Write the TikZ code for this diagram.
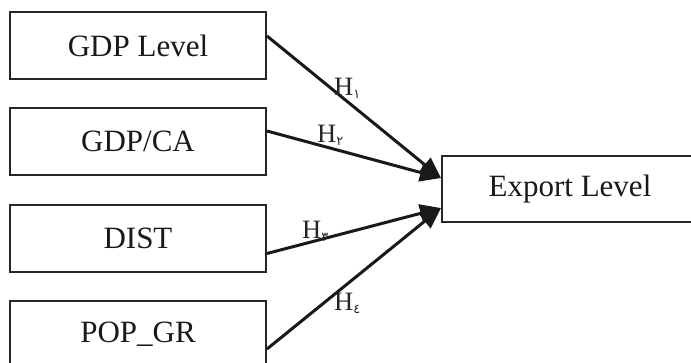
\documentclass[tikz,border=0pt]{standalone}
\usepackage{fontspec}
\setmainfont{Liberation Serif}
\newfontfamily\arabicfont[Script=Arabic]{DejaVu Sans}
\usetikzlibrary{arrows.meta}
\tikzset{
  varbox/.style={draw=black!85, line width=2pt, minimum width=256pt, minimum height=67pt,
    inner sep=0pt, font=\fontsize{31}{31}\selectfont, text=black!90},
  link/.style={line width=3pt, black!90, -{Triangle[length=21pt,width=18pt]}},
  hlab/.style={inner sep=0pt, anchor=base west, font=\fontsize{26.5}{26.5}\selectfont, text=black!85}
}
\newcommand{\hsub}[1]{H\raisebox{-3pt}{\arabicfont\fontsize{13}{13}\selectfont #1}}
\begin{document}
\begin{tikzpicture}[x=1pt,y=-1pt]
\clip (0,0) rectangle (691,362);
\fill[white] (0,0) rectangle (691,362);
\node[varbox] (g1) at (138,45.5) {GDP Level};
\node[varbox] (g2) at (138,141.5) {GDP/CA};
\node[varbox] (g3) at (138,238) {DIST};
\node[varbox] (g4) at (138,334.5) {POP\_GR};
\node[varbox, minimum height=66pt] (ex) at (570,189) {Export Level};
\draw[link] ([yshift=-25pt]g1.north east) -- ([yshift=11pt]ex.west);
\draw[link] ([yshift=-24pt]g2.north east) -- ([yshift=11pt]ex.west);
\draw[link] ([yshift=19pt]g3.south east) -- ([yshift=-19pt]ex.west);
\draw[link] ([yshift=20pt]g4.south east) -- ([yshift=-19pt]ex.west);
\node[hlab] (h1) at (334,95) {\hsub{١}};
\node[hlab] (h2) at (317,142) {\hsub{٢}};
\node[hlab] (h3) at (302,238) {\hsub{٣}};
\node[hlab] (h4) at (334,310) {\hsub{٤}};
\end{tikzpicture}
\end{document}
